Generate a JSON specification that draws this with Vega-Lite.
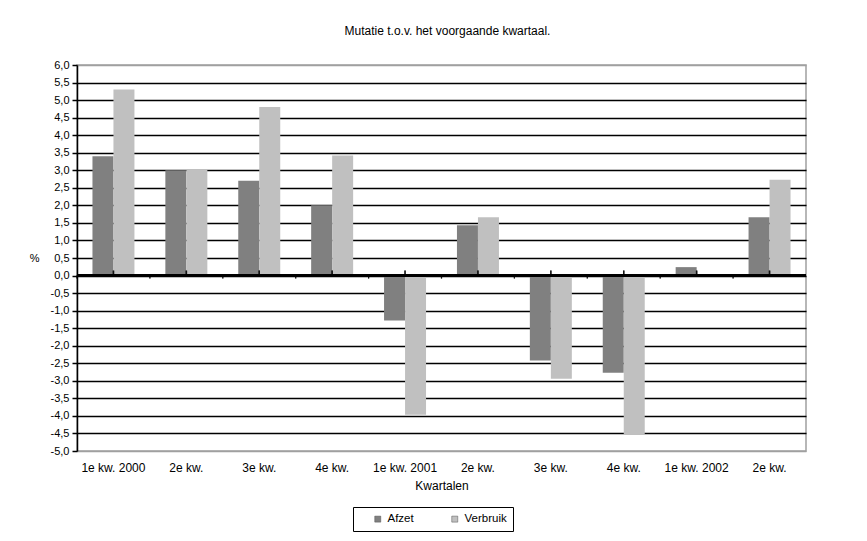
{
  "$schema": "https://vega.github.io/schema/vega-lite/v6.json",
  "width": 729,
  "height": 386,
  "autosize": "none",
  "padding": {"left": 77, "top": 65, "right": 61, "bottom": 90},
  "background": "white",
  "title": {
    "text": "Mutatie t.o.v. het voorgaande kwartaal.",
    "fontSize": 12,
    "fontWeight": "normal",
    "font": "Liberation Sans",
    "color": "black",
    "offset": 21,
    "dx": 6
  },
  "config": {
    "font": "Liberation Sans",
    "view": {"stroke": "#a0a0a0", "strokeWidth": 1.5}
  },
  "data": {
    "values": [
      {"kwartaal": "1e kw. 2000", "reeks": "Afzet", "waarde": 3.4},
      {"kwartaal": "1e kw. 2000", "reeks": "Verbruik", "waarde": 5.3},
      {"kwartaal": "2e kw. 2000", "reeks": "Afzet", "waarde": 3.0},
      {"kwartaal": "2e kw. 2000", "reeks": "Verbruik", "waarde": 3.02},
      {"kwartaal": "3e kw. 2000", "reeks": "Afzet", "waarde": 2.7},
      {"kwartaal": "3e kw. 2000", "reeks": "Verbruik", "waarde": 4.8},
      {"kwartaal": "4e kw. 2000", "reeks": "Afzet", "waarde": 2.0},
      {"kwartaal": "4e kw. 2000", "reeks": "Verbruik", "waarde": 3.42},
      {"kwartaal": "1e kw. 2001", "reeks": "Afzet", "waarde": -1.28},
      {"kwartaal": "1e kw. 2001", "reeks": "Verbruik", "waarde": -3.97},
      {"kwartaal": "2e kw. 2001", "reeks": "Afzet", "waarde": 1.43},
      {"kwartaal": "2e kw. 2001", "reeks": "Verbruik", "waarde": 1.66},
      {"kwartaal": "3e kw. 2001", "reeks": "Afzet", "waarde": -2.42},
      {"kwartaal": "3e kw. 2001", "reeks": "Verbruik", "waarde": -2.94},
      {"kwartaal": "4e kw. 2001", "reeks": "Afzet", "waarde": -2.77},
      {"kwartaal": "4e kw. 2001", "reeks": "Verbruik", "waarde": -4.53},
      {"kwartaal": "1e kw. 2002", "reeks": "Afzet", "waarde": 0.24},
      {"kwartaal": "1e kw. 2002", "reeks": "Verbruik", "waarde": 0},
      {"kwartaal": "2e kw. 2002", "reeks": "Afzet", "waarde": 1.66},
      {"kwartaal": "2e kw. 2002", "reeks": "Verbruik", "waarde": 2.73}
    ]
  },
  "layer": [
    {
      "mark": {"type": "bar"},
      "encoding": {
        "x": {
          "field": "kwartaal",
          "type": "nominal",
          "sort": null,
          "scale": {"paddingInner": 0, "paddingOuter": 0},
          "axis": {
            "title": "Kwartalen",
            "labelAngle": 0,
            "domain": false,
            "ticks": false,
            "grid": false,
            "labelPadding": 11,
            "labelFontSize": 12,
            "labelColor": "black",
            "labelExpr": "indexof(datum.label, '1e') == 0 ? datum.label : slice(datum.label, 0, 6)",
            "titlePadding": 7,
            "titleFontSize": 12,
            "titleFontWeight": "normal",
            "titleColor": "black"
          }
        },
        "xOffset": {
          "field": "reeks",
          "type": "nominal",
          "sort": ["Afzet", "Verbruik"],
          "scale": {"paddingInner": 0, "paddingOuter": 0.736}
        },
        "y": {
          "field": "waarde",
          "type": "quantitative",
          "scale": {"domain": [-5, 6], "nice": false, "zero": false},
          "axis": {
            "values": [-5, -4.5, -4, -3.5, -3, -2.5, -2, -1.5, -1, -0.5, 0, 0.5, 1, 1.5, 2, 2.5, 3, 3.5, 4, 4.5, 5, 5.5, 6],
            "tickCount": 40,
            "labelOverlap": false,
            "labelExpr": "replace(replace(format(datum.value, '.1f'), '.', ','), '\u2212', '-')",
            "grid": true,
            "gridColor": {"condition": {"test": "datum.value == 6 || datum.value == -5", "value": "#a0a0a0"}, "value": "black"},
            "gridWidth": 1.5,
            "domainColor": "black",
            "domainWidth": 1.5,
            "tickColor": "black",
            "tickSize": 5,
            "tickWidth": 1.5,
            "labelFontSize": 11,
            "labelColor": "black",
            "labelPadding": 3,
            "title": "%",
            "titleAngle": 0,
            "titleFontSize": 11,
            "titleFontWeight": "normal",
            "titleColor": "black",
            "titleAlign": "right",
            "titleBaseline": "middle",
            "titleX": -38,
            "titleY": 193
          }
        },
        "color": {
          "field": "reeks",
          "type": "nominal",
          "scale": {"domain": ["Afzet", "Verbruik"], "range": ["#808080", "#c0c0c0"]},
          "legend": {
            "title": null,
            "orient": "none",
            "legendX": 276,
            "legendY": 442,
            "direction": "horizontal",
            "strokeColor": "black",
            "padding": 6,
            "symbolType": "square",
            "symbolSize": 36,
            "symbolStrokeColor": "#505050",
            "symbolStrokeWidth": 0.5,
            "symbolOffset": 13,
            "columnPadding": 22,
            "labelFontSize": 11.5,
            "labelColor": "black"
          }
        }
      }
    },
    {
      "mark": {"type": "rule", "color": "black", "strokeWidth": 1.5},
      "encoding": {"y": {"datum": 0}}
    },
    {
      "mark": {"type": "tick", "orient": "vertical", "size": 5, "thickness": 1.5, "color": "black", "yOffset": -2.5},
      "encoding": {
        "x": {"field": "kwartaal", "type": "nominal", "sort": null},
        "y": {"datum": 0}
      }
    },
    {
      "mark": {"type": "tick", "orient": "vertical", "size": 3, "thickness": 1.2, "color": "black", "yOffset": 1.5},
      "encoding": {
        "x": {"field": "kwartaal", "type": "nominal", "sort": null, "bandPosition": 0},
        "y": {"datum": 0}
      }
    }
  ]
}
